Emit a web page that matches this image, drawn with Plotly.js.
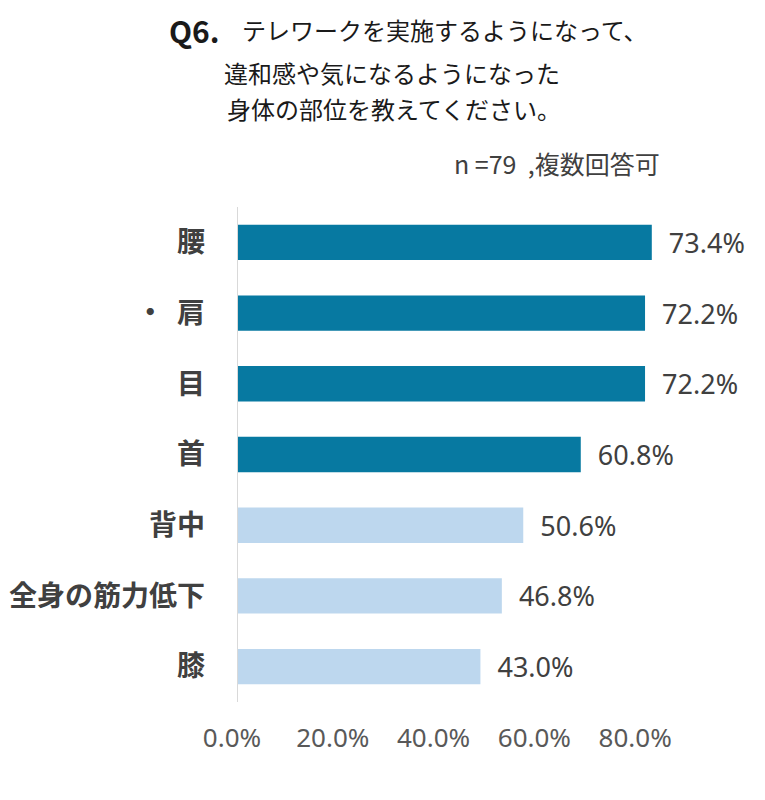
<!DOCTYPE html>
<html>
<head>
<meta charset="utf-8">
<script src="https://cdn.plot.ly/plotly-3.0.1.min.js"></script>
<style>
  body { margin: 0; background: #fff; }
  #chart { width: 765px; height: 800px; }
</style>
</head>
<body>
<div id="chart"></div>
<script>
// survey result, top to bottom
const parts = ["腰", "・\u00a0\u00a0肩", "目", "首", "背中", "全身の筋力低下", "膝"];
const shares = [73.4, 72.2, 72.2, 60.8, 50.6, 46.8, 43.0];
const tickValues = [0, 20, 40, 60, 80];
const tickLabels = ["0.0%", "20.0%", "40.0%", "60.0%", "80.0%"];

const DARK = "#0779a1";
const LIGHT = "#bdd7ee";
const JP = "'Noto Sans CJK JP', 'Noto Sans', sans-serif";
const NUM = "'Noto Sans', 'DejaVu Sans', sans-serif";

const barColors = shares.map((v, i) => (i < 4 ? DARK : LIGHT));

const bars = {
  type: "bar",
  orientation: "h",
  x: shares,
  y: parts,
  marker: { color: barColors },
  text: shares.map(v => "\u00a0\u00a0" + v.toFixed(1) + "%"),
  textposition: "outside",
  cliponaxis: false,
  constraintext: "none",
  textfont: { family: NUM, size: 27, color: "#404040" },
  hoverinfo: "skip",
};

// empty trace so the label axis gets drawn
const labelAxis = {
  type: "scatter",
  x: [],
  y: [],
  xaxis: "x2",
  yaxis: "y",
  hoverinfo: "skip",
};

const layout = {
  width: 765,
  height: 800,
  paper_bgcolor: "#ffffff",
  plot_bgcolor: "rgba(0,0,0,0)",
  showlegend: false,
  bargap: 0.5,
  margin: { l: 150, r: 20, t: 207, b: 98 },
  xaxis: {
    domain: [0.1479, 0.9059],
    range: [0, 80],
    visible: false,
    fixedrange: true,
  },
  // label axis, placed as in the original picture
  xaxis2: {
    anchor: "y",
    domain: [0.121, 1],
    range: [-1.985, 101.8],
    tickmode: "array",
    tickvals: tickValues,
    ticktext: tickLabels,
    showgrid: false,
    zeroline: false,
    showline: false,
    ticks: "",
    ticklabelstandoff: 18,
    tickfont: { family: NUM, size: 26, color: "#595959" },
    fixedrange: true,
  },
  yaxis: {
    type: "category",
    anchor: "x",
    autorange: "reversed",
    showline: true,
    linecolor: "#d9d9d9",
    linewidth: 1.5,
    showgrid: false,
    zeroline: false,
    ticks: "",
    ticklabelstandoff: 26,
    tickfont: { family: JP, size: 28, color: "#404040", weight: "bold" },
    fixedrange: true,
  },
  annotations: [
    {
      text: "<b>Q6.</b>", xref: "paper", yref: "paper", x: 0.0286, y: 1.358,
      xanchor: "left", yanchor: "middle", showarrow: false,
      font: { family: JP, size: 30, color: "#1a1a1a" },
    },
    {
      text: "テレワークを実施するようになって、", xref: "paper", yref: "paper", x: 0.1513, y: 1.358,
      xanchor: "left", yanchor: "middle", showarrow: false,
      font: { family: JP, size: 24, color: "#1a1a1a" },
    },
    {
      text: "違和感や気になるようになった", xref: "paper", yref: "paper", x: 0.121, y: 1.2727,
      xanchor: "left", yanchor: "middle", showarrow: false,
      font: { family: JP, size: 24, color: "#1a1a1a" },
    },
    {
      text: "身体の部位を教えてください。", xref: "paper", yref: "paper", x: 0.126, y: 1.2,
      xanchor: "left", yanchor: "middle", showarrow: false,
      font: { family: JP, size: 24, color: "#1a1a1a" },
    },
    {
      text: "n\u00a0=79\u00a0\u00a0,複数回答可", xref: "paper", yref: "paper", x: 0.8605, y: 1.0889,
      xanchor: "right", yanchor: "middle", showarrow: false,
      font: { family: JP, size: 25, color: "#404040" },
    },
  ],
};

Plotly.newPlot("chart", [bars, labelAxis], layout, { staticPlot: true, displayModeBar: false });
</script>
</body>
</html>
